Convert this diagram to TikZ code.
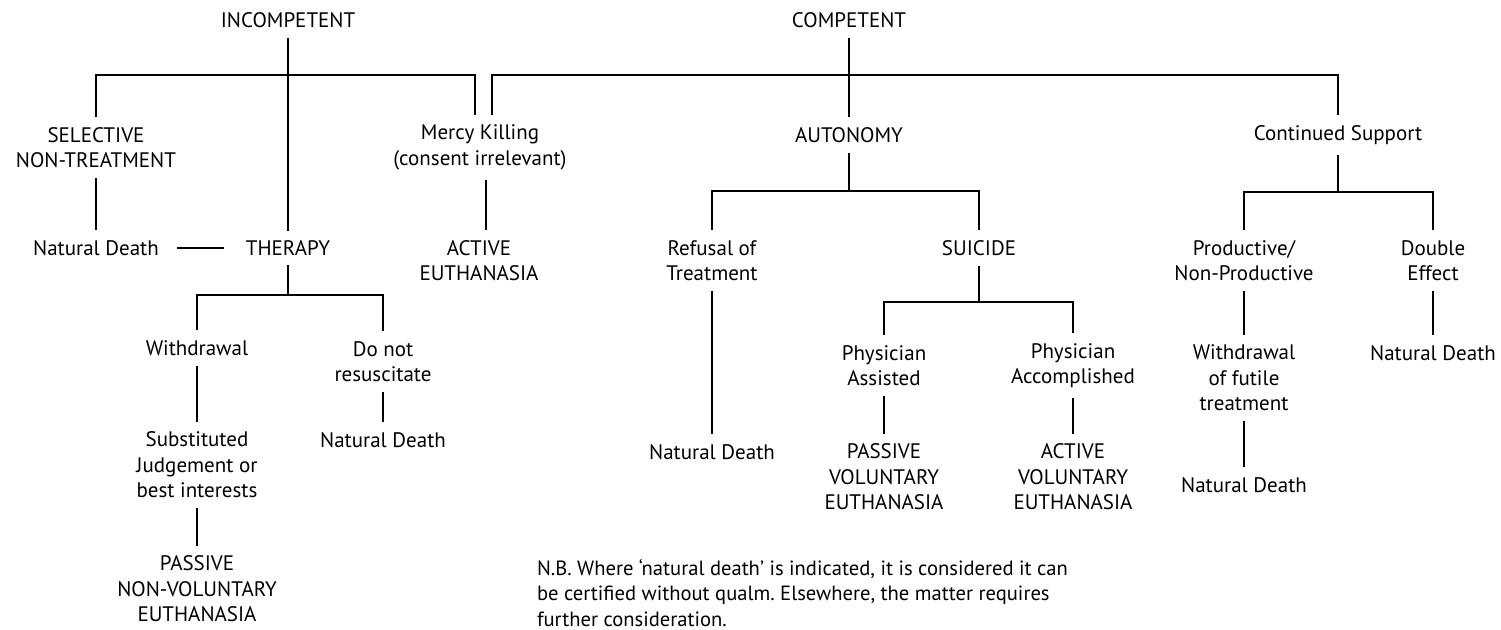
\documentclass[tikz,border=0pt]{standalone}
\usepackage{fontspec}
\setmainfont{PT Sans}
\frenchspacing
\begin{document}
\begin{tikzpicture}[x=0.5pt,y=-0.5pt,
  lbl/.style={inner sep=0pt,outer sep=5pt,align=center,font=\fontsize{10.5}{12.75}\selectfont},
  conn/.style={line width=1.1pt}]
\useasboundingbox (0,0) rectangle (1501,630);
% nodes
\node[lbl] (inc) at (288,20) {INCOMPETENT};
\node[lbl] (comp) at (849,20) {COMPETENT};
\node[lbl] (sel) at (96,147.5) {SELECTIVE\\NON-TREATMENT};
\node[lbl] (mercy) at (480,147.5) {Mercy Killing\\(consent irrelevant)};
\node[lbl] (auto) at (849,135) {AUTONOMY};
\node[lbl] (cont) at (1338,135) {Continued Support};
\node[lbl] (nd1) at (96,248) {Natural Death};
\node[lbl] (ther) at (288,248) {THERAPY};
\node[lbl] (act) at (479,260.5) {ACTIVE\\EUTHANASIA};
\node[lbl] (ref) at (712,260.5) {Refusal of\\Treatment};
\node[lbl] (sui) at (979,248) {SUICIDE};
\node[lbl] (prod) at (1244,260.5) {Productive/\\Non-Productive};
\node[lbl] (dbl) at (1433,260.5) {Double\\Effect};
\node[lbl] (wd) at (197,348) {Withdrawal};
\node[lbl] (dnr) at (383,361.5) {Do not\\resuscitate};
\node[lbl] (pa) at (884,365.5) {Physician\\Assisted};
\node[lbl] (pac) at (1073,365.5) {Physician\\Accomplished};
\node[lbl] (wft) at (1244,378) {Withdrawal\\of futile\\treatment};
\node[lbl] (nd5) at (1433,353) {Natural Death};
\node[lbl] (sub) at (197,465) {Substituted\\Judgement or\\best interests};
\node[lbl] (nd2) at (383,440) {Natural Death};
\node[lbl] (nd3) at (712,452) {Natural Death};
\node[lbl] (pve) at (884,477) {PASSIVE\\VOLUNTARY\\EUTHANASIA};
\node[lbl] (ave) at (1073,477) {ACTIVE\\VOLUNTARY\\EUTHANASIA};
\node[lbl] (nd4) at (1244,485) {Natural Death};
\node[lbl] (pnv) at (197,589) {PASSIVE\\NON-VOLUNTARY\\EUTHANASIA};
\node[lbl,align=left,anchor=west,outer sep=0pt,font=\fontsize{10.3}{12.75}\selectfont] (nb) at (537,593) {N.B. Where ‘natural death’ is indicated, it is considered it can\\be certified without qualm. Elsewhere, the matter requires\\further consideration.};
% bar junctions
\coordinate (barI) at (288,75);
\coordinate (barC) at (849,75);
\coordinate (barA) at (849,191);
\coordinate (barS) at (979,302);
\coordinate (barCS) at (1338,192);
\coordinate (barT) at (288,295);
% connectors
\draw[conn] (inc) -- (ther);
\draw[conn] (sel.north) |- (barI) -| ([xshift=-2.5pt]mercy.north);
\draw[conn] ([xshift=6pt]mercy.north) |- (barC) -| (cont.north);
\draw[conn] (comp) -- (auto);
\draw[conn] (auto) -- (barA);
\draw[conn] (ref.north) |- (barA) -| (sui.north);
\draw[conn] (sui) -- (barS);
\draw[conn] (pa.north) |- (barS) -| (pac.north);
\draw[conn] (cont) -- (barCS);
\draw[conn] (prod.north) |- (barCS) -| (dbl.north);
\draw[conn] (ther) -- (barT);
\draw[conn] (wd.north) |- (barT) -| (dnr.north);
\draw[conn] ([xshift=4pt]nd1.east) -- ([xshift=-6pt]ther.west);
\draw[conn] (sel) -- (nd1);
\draw[conn] ([xshift=3pt]mercy.south) -- ([xshift=3.5pt]act.north);
\draw[conn] (wd) -- (sub);
\draw[conn] (sub) -- (pnv);
\draw[conn] (dnr) -- (nd2);
\draw[conn] (ref) -- (nd3);
\draw[conn] (pa) -- (pve);
\draw[conn] (pac) -- (ave);
\draw[conn] (prod) -- (wft);
\draw[conn] (wft) -- (nd4);
\draw[conn] (dbl) -- (nd5);
\end{tikzpicture}
\end{document}
